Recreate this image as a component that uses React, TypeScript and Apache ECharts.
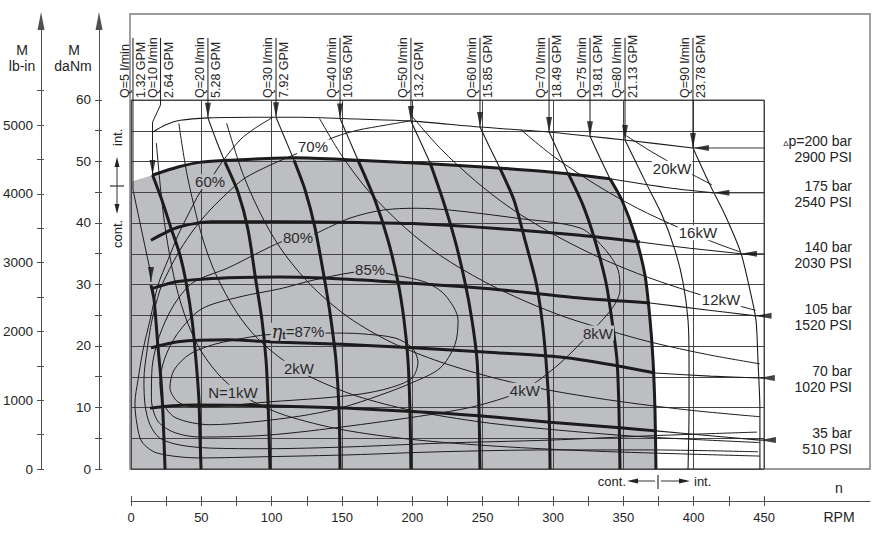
import React, { useEffect, useRef } from "react";
import * as echarts from "echarts";

type Pt = [number, number];

// ---------- axis ticks and labels ----------
const rpmTicks = [0, 25, 50, 75, 100, 125, 150, 175, 200, 225, 250, 275, 300, 325, 350, 375, 400, 425, 450];
const rpmLabels = [0, 50, 100, 150, 200, 250, 300, 350, 400, 450];
const daNmTicks = [0, 5, 10, 15, 20, 25, 30, 35, 40, 45, 50, 55, 60];
const daNmLabels = [0, 10, 20, 30, 40, 50, 60];
const lbinTicks = [0, 500, 1000, 1500, 2000, 2500, 3000, 3500, 4000, 4500, 5000, 5500];
const lbinLabels = [0, 1000, 2000, 3000, 4000, 5000];

// ---------- pressure curves  [RPM, daNm] ----------
const p200: Pt[] = [[15.6, 54.8], [24, 55.9], [35, 56.7], [55, 57.1], [92, 57.2], [120, 57.2], [161, 56.9], [198, 56.6], [248, 55.6], [297, 54.8], [326, 54.1], [351, 53.5], [399.5, 52.2]];
const p175Thick: Pt[] = [[15.6, 47.8], [33.4, 49.1], [49.8, 49.9], [69, 50.2], [116.6, 50.6], [161.4, 50.2], [198.3, 49.8], [250.2, 49.1], [297.9, 48.3], [340.5, 47.2]];
const p175Thin: Pt[] = [[340.5, 47.2], [383.2, 45.7], [414, 44.9]];
const p140Thick: Pt[] = [[14.2, 37.2], [33.4, 39.3], [56.9, 40.2], [105.9, 40.2], [161.4, 40.1], [200.5, 39.9], [260, 39.1], [319.2, 38.0], [361.8, 36.9]];
const p140Thin: Pt[] = [[361.8, 36.9], [397.4, 35.9], [433.6, 35.0]];
const p105Thick: Pt[] = [[14.2, 29.3], [33.4, 30.5], [69, 31.1], [105.9, 31.2], [150, 30.9], [200.5, 30.2], [260, 29.2], [319.2, 27.8], [369, 27.0]];
const p105Thin: Pt[] = [[369, 27.0], [408, 25.9], [444, 24.9]];
const p70Thick: Pt[] = [[14.2, 19.7], [33.4, 20.7], [69, 21.0], [105.9, 20.6], [150, 20.3], [200.5, 19.7], [260, 18.9], [305, 18.2], [342.6, 16.9], [372.5, 15.6]];
const p70Thin: Pt[] = [[372.5, 15.6], [411.6, 15.1], [446.3, 14.8]];
const p35Thick: Pt[] = [[13.5, 9.9], [30, 10.3], [45.5, 10.4], [92.4, 10.3], [152.1, 9.9], [219.7, 9.1], [260, 8.4], [297.9, 7.6], [347.6, 6.7], [373.2, 6.2]];
const p35Thin: Pt[] = [[373.2, 6.2], [411.6, 5.4], [447.1, 4.7]];

const pressureBar = ["200", "175", "140", "105", "70", "35"];
const pressurePsi = ["2900", "2540", "2030", "1520", "1020", "510"];
const pressureArrowTips: Pt[] = [[399.5, 52.2], [414, 44.9], [433.6, 35.0], [444, 24.9], [446.3, 14.8], [447.1, 4.7]];

// ---------- flow curves  [RPM, daNm] ----------
const qFlows = [5, 10, 20, 30, 40, 50, 60, 70, 75, 80, 90];
const qGpm = ["1.32", "2.64", "5.28", "7.92", "10.56", "13.2", "15.85", "18.49", "19.81", "21.13", "23.78"];
const qLeaderRpm = [1.4, 21.0, 54.7, 103.1, 148.6, 199, 248.1, 297.2, 326.3, 351.2, 399.5];
const qTips: Pt[] = [[14.2, 30.4], [15.3, 47.8], [54.7, 57.1], [103.1, 57.2], [148.6, 57.0], [199, 56.6], [248.1, 55.6], [297.2, 54.8], [326.3, 54.1], [351.2, 53.5], [399.5, 52.2]];
const q5Bend: Pt[] = [[1.4, 45.4], [13.5, 32.4]];
const q10Bend: Pt[] = [[21.0, 59.2], [15.3, 56.4]];

const q5Thick: Pt[] = [[14.2, 29.9], [16.4, 27.5], [19.2, 19.8], [21.3, 14.5], [22.7, 9.1], [24.2, 0]];
const q10Thick: Pt[] = [[15.3, 47.8], [22, 43.7], [28.4, 39.2], [34.8, 34.8], [39.1, 30.4], [43.4, 24.2], [46.2, 17.7], [48.3, 11.2], [49.1, 4.7], [49.8, 0]];
const q20Thin: Pt[] = [[54.7, 57.1], [60.5, 53.5], [66.8, 49.9]];
const q20Thick: Pt[] = [[66.8, 49.9], [76.1, 45], [83.2, 38.9], [88.9, 30.4], [93.1, 24.2], [96, 17.7], [97.4, 11.2], [98.8, 0]];
const q30Thin: Pt[] = [[103.1, 57.2], [109.5, 53.7], [115.9, 50.2]];
const q30Thick: Pt[] = [[115.9, 50.2], [123.7, 45.4], [130.8, 39.2], [137.9, 30.4], [142.2, 24.2], [145.7, 17.7], [147.9, 9.6], [148.6, 0]];
const q40Thin: Pt[] = [[148.6, 57.0], [155, 53.6], [161.4, 50.2]];
const q40Thick: Pt[] = [[161.4, 50.2], [173.5, 43.7], [182.7, 37.2], [189.8, 30.4], [194.1, 24.2], [196.9, 17.7], [198.3, 9.6], [199, 0]];
const q50Thin: Pt[] = [[199, 56.6], [205.8, 53.2], [212.6, 49.8]];
const q50Thick: Pt[] = [[212.6, 49.8], [221.8, 43.7], [230.3, 37.2], [237.4, 30.4], [242.4, 24.2], [246, 17.7], [247.4, 9.6], [248.1, 0]];
const q60Thin: Pt[] = [[248.1, 55.6], [255.2, 52.2], [262.3, 48.9]];
const q60Thick: Pt[] = [[262.3, 48.9], [272.3, 43.7], [280.1, 37.2], [287.9, 30.4], [292.2, 24.2], [295, 17.7], [297.2, 9.6], [297.9, 0]];
const q70Thin: Pt[] = [[297.2, 54.8], [304, 51.4], [310.7, 48.1]];
const q70Thick: Pt[] = [[310.7, 48.1], [321.3, 42.9], [329.8, 37.2], [337.6, 30.4], [341.9, 24.2], [345.5, 17.7], [346.9, 9.6], [347.6, 0]];
const q75Thin: Pt[] = [[326.3, 54.1], [333.4, 50.6], [340.5, 47.2]];
const q75Thick: Pt[] = [[340.5, 47.2], [349, 43.7], [358.3, 38], [365.4, 31.5], [369, 24.2], [371.1, 17.7], [372.5, 9.6], [373.2, 0]];
const q80Thin: Pt[] = [[351.2, 53.5], [366.8, 46.2], [377.5, 41.3], [386.7, 35.6], [392.4, 30.4], [396, 24.2], [396.7, 17.7], [396.7, 9.6], [396, 0]];
const q90Thin: Pt[] = [[399.5, 52.2], [411.6, 46.2], [422.3, 41.3], [433.6, 35.1], [440, 29.1], [444.3, 24.2], [445.7, 17.7], [447.1, 9.6], [447.1, 0]];

// continuous-duty region corner
const contCorner: Pt[] = [[0, 46.7]];

// ---------- efficiency contours ----------
const eta60: Pt[] = [[100.9, 57.2], [88.1, 55.4], [77.5, 53.5], [64.7, 49.9], [56.2, 47.0], [49.1, 45.0], [40.5, 41.3], [33.4, 38.0], [26.3, 34.0], [19.2, 29.9], [13.5, 24.2], [8.5, 19.3], [5.0, 14.5], [2.8, 10.7], [4.3, 7.2], [7.8, 4.4], [18.5, 2.6], [49.1, 1.8], [96.7, 2.0], [155.7, 2.3], [219.7, 2.8], [297.9, 3.1], [369, 3.1], [445.7, 2.8]];
const eta70: Pt[] = [[198.3, 56.6], [180.6, 55.9], [161.4, 55.1], [145, 54.0], [120.1, 51.5], [98.8, 49.4], [81, 47.3], [69, 45.0], [56.2, 42.1], [45.5, 39.2], [34.8, 35.6], [26.3, 32.0], [20.6, 29.1], [14.9, 24.2], [11.4, 19.3], [9.2, 14.5], [10, 10.4], [13.5, 7.2], [20.6, 5.0], [34.8, 3.9], [56.2, 3.4], [96.7, 3.3], [155.7, 3.6], [219.7, 4.2], [297.9, 4.7], [369, 5.4], [445, 6.0]];
const eta80: Pt[] = [[130.8, 38.2], [155.7, 40.8], [179.1, 42.1], [202.6, 42.4], [226.8, 42.1], [273.7, 40.8], [319.2, 39.2], [335.5, 36.1], [346.2, 32.4], [347.6, 29.1], [342.6, 26.3], [328.4, 22.6], [305, 17.2], [278.7, 12.8], [248.1, 10.4], [219.7, 9.1], [155.7, 7.0], [96.7, 5.5], [49.1, 5.2], [31.3, 5.9], [19, 7.8], [14.5, 11.5], [15, 16.5], [20, 21.5], [30, 26.5], [44, 30.3], [69, 32.7], [91.7, 35.3], [106.6, 36.9], [118.7, 37.6], [130.8, 38.2]];
const eta85: Pt[] = [[187.7, 31.5], [209, 30.4], [223.2, 28.3], [232.5, 24.2], [230.3, 20.2], [219.7, 16.4], [200.5, 14.1], [177, 12.0], [148.6, 9.9], [120.1, 8.6], [84.6, 7.6], [56.2, 7.2], [32, 8.3], [23, 10.6], [20.6, 14], [24, 18], [33, 22], [50, 26], [77.5, 28.0], [105.9, 29.3], [129.4, 30.7], [155.7, 31.9], [170, 32.2], [187.7, 31.5]];
const eta87: Pt[] = [[145, 22.1], [162.8, 22.0], [187.7, 21.3], [199.8, 19.7], [204, 17.4], [199.8, 14.8], [184.1, 13.2], [163.5, 12.2], [134.4, 11.5], [97.4, 10.9], [63.3, 10.2], [45.5, 10.1], [33.4, 10.9], [27.7, 13.2], [30.6, 16.1], [41.9, 18.7], [59.7, 20.3], [81, 21.3], [95.3, 21.8], [120.1, 22.1], [145, 22.1]];

// ---------- power lines ----------
const kw1: Pt[] = [[18, 53.0], [22, 43.4], [26, 36.7], [32, 29.8], [40, 23.9], [50, 19.1], [65, 14.7], [85, 11.2], [110, 8.7], [150, 6.4], [200, 4.8], [260, 3.7], [330, 2.9], [400, 2.4], [447, 2.1]];
const kw2: Pt[] = [[34, 56.2], [40, 47.7], [50, 38.2], [60, 31.8], [75, 25.5], [90, 21.2], [110, 17.4], [130, 14.7], [160, 11.9], [200, 9.5], [250, 7.6], [300, 6.4], [360, 5.3], [447, 4.3]];
const kw4: Pt[] = [[68, 56.2], [80, 47.7], [95, 40.2], [110, 34.7], [130, 29.4], [155, 24.6], [185, 20.6], [220, 17.4], [260, 14.7], [300, 12.7], [350, 10.9], [400, 9.5], [447, 8.5]];
const kw8: Pt[] = [[134, 57.0], [150, 50.9], [170, 44.9], [195, 39.2], [220, 34.7], [250, 30.6], [280, 27.3], [310, 24.6], [340, 22.5], [370, 20.6], [410, 18.6], [447, 17.1]];
const kw12: Pt[] = [[200, 57.3], [220, 52.1], [245, 46.8], [270, 42.4], [300, 38.2], [330, 34.7], [360, 31.8], [390, 29.4], [420, 27.3], [444, 25.8]];
const kw16: Pt[] = [[277, 55.2], [300, 50.9], [330, 46.3], [360, 42.4], [390, 39.2], [415, 36.8], [433, 35.3]];
const kw20: Pt[] = [[352, 54.2], [370, 51.6], [390, 49.0], [413, 46.2]];

// ---------- curve labels ----------
const curveLabelText = ["60%", "70%", "80%", "85%", "87%", "N=1kW", "2kW", "4kW", "8kW", "12kW", "16kW", "20kW"];
const curveLabelAt: Pt[] = [[56.2, 46.7], [129.4, 52.4], [118.7, 37.6], [170, 32.4], [118.7, 22.3], [72.5, 12.5], [119.4, 16.4], [280, 12.8], [332, 22.1], [419.4, 27.5], [403, 38.4], [384.6, 48.9]];
const curveLabelOnGray = [true, false, true, true, true, true, true, true, true, false, false, false];

// ---------- styling / layout constants ----------
const FONT = '"Liberation Sans", Arial, Helvetica, sans-serif';
const INK = "#1c1c1c";
const TEXT = "#242424";
const GRAY = "#bdbec2";
const LEADER_TOP = 70.1;
const ARROW_END = 512.6;

function curve(data: Pt[], width: number, z = 3, smooth: number | boolean = 0.25) {
  return {
    type: "line", xAxisIndex: 0, yAxisIndex: 0, data, symbol: "none", showSymbol: false,
    smooth, clip: false, silent: true, z, lineStyle: { color: INK, width }, emphasis: { disabled: true },
  };
}

function buildOption() {
  const contRegion: Pt[] = [...contCorner, ...p175Thick, ...q75Thick.slice(1)];
  const series: any[] = [];
  series.push({
    type: "line", xAxisIndex: 0, yAxisIndex: 0, data: contRegion, symbol: "none", smooth: 0.25,
    lineStyle: { width: 0 }, areaStyle: { color: GRAY, opacity: 1 }, z: -1, silent: true,
  });
  [eta60, eta70, eta80, eta85, eta87].forEach((d) => series.push(curve(d, 1, 3, 0.3)));
  [kw1, kw2, kw4, kw8, kw12, kw16, kw20].forEach((d) => series.push(curve(d, 1, 3, 0.3)));
  [p200, p175Thin, p140Thin, p105Thin, p70Thin, p35Thin].forEach((d) => series.push(curve(d, 1.1, 3)));
  [p175Thick, p140Thick, p105Thick, p70Thick, p35Thick].forEach((d) => series.push(curve(d, 3, 4)));
  [q20Thin, q30Thin, q40Thin, q50Thin, q60Thin, q70Thin, q75Thin, q80Thin, q90Thin].forEach((d) => series.push(curve(d, 1.1, 3)));
  [q5Thick, q10Thick, q20Thick, q30Thick, q40Thick, q50Thick, q60Thick, q70Thick, q75Thick].forEach((d) => series.push(curve(d, 3, 4)));
  // flow label leaders
  qLeaderRpm.forEach((r, i) => {
    let pts: Pt[] = [[r, LEADER_TOP]];
    if (i === 0) pts = pts.concat(q5Bend);
    if (i === 1) pts = pts.concat(q10Bend);
    pts.push(qTips[i]);
    series.push(curve(pts, 1, 3, false));
  });
  // pressure leaders
  pressureArrowTips.forEach((t) => {
    series.push({ ...curve([t, [ARROW_END, t[1]]], 1, 3, false), lineStyle: { color: "#3a3a3a", width: 1 } });
  });
  series.push({
    type: "scatter", xAxisIndex: 0, yAxisIndex: 0, data: qTips, symbol: "triangle", symbolSize: [6, 15],
    symbolRotate: 180, symbolOffset: [0, -7.5], itemStyle: { color: "#111" }, clip: false, silent: true, z: 6,
  });
  series.push({
    type: "scatter", xAxisIndex: 0, yAxisIndex: 0, data: pressureArrowTips, symbol: "triangle", symbolSize: [6, 16],
    symbolRotate: 90, symbolOffset: [8, 0], itemStyle: { color: "#111" }, clip: false, silent: true, z: 6,
  });

  const hidden = { axisLine: { show: false }, axisTick: { show: false }, axisLabel: { show: false }, splitLine: { show: false } };
  const axisColor = "#505050";
  const plain = (v: number) => String(v);

  return {
    animation: false,
    backgroundColor: "#ffffff",
    textStyle: { fontFamily: FONT },
    grid: [
      { left: 131, top: 100, width: 633, height: 369, show: true, borderColor: "#4a4a4a", borderWidth: 1, backgroundColor: "transparent" },
      { left: 131, top: 30, width: 739, height: 439, show: false },
      { left: 130, top: 14, width: 740, height: 455, show: true, borderColor: "#7a7a7a", borderWidth: 1.4, backgroundColor: "transparent" },
    ],
    xAxis: [
      { gridIndex: 0, type: "value", min: 0, max: 450, interval: 50, ...hidden, splitLine: { show: true, lineStyle: { color: "#454545", width: 1 } } },
      {
        gridIndex: 1, type: "value", min: 0, max: 525.35, position: "bottom", offset: 32,
        axisLine: { show: true, onZero: false, lineStyle: { color: axisColor, width: 1 } },
        axisTick: { show: true, customValues: rpmTicks, length: 5, inside: false, lineStyle: { color: axisColor } },
        axisLabel: { show: true, customValues: rpmLabels, margin: 10, fontSize: 13, color: TEXT, fontFamily: FONT, formatter: plain },
        splitLine: { show: false },
      },
      {
        gridIndex: 1, type: "value", min: 0, max: 525.35, position: "bottom", offset: 32,
        axisLine: { show: false, onZero: false },
        axisTick: { show: true, customValues: rpmTicks, length: 5, inside: true, lineStyle: { color: axisColor } },
        axisLabel: { show: false }, splitLine: { show: false },
      },
      { gridIndex: 2, type: "value", min: 0, max: 1, show: false },
    ],
    yAxis: [
      { gridIndex: 0, type: "value", min: 0, max: 60, interval: 5, ...hidden, splitLine: { show: true, lineStyle: { color: "#454545", width: 1 } } },
      {
        gridIndex: 1, type: "value", min: 0, max: 71.38, position: "left", offset: 32,
        axisLine: { show: true, onZero: false, lineStyle: { color: axisColor, width: 1 }, symbol: ["none", "triangle"], symbolSize: [7, 18], symbolOffset: [0, 9] },
        axisTick: { show: true, customValues: daNmTicks, length: 4, inside: false, lineStyle: { color: axisColor } },
        axisLabel: { show: true, customValues: daNmLabels, margin: 8, fontSize: 13.5, color: TEXT, fontFamily: FONT, formatter: plain },
        splitLine: { show: false },
      },
      {
        gridIndex: 1, type: "value", min: 0, max: 71.38, position: "left", offset: 32,
        axisLine: { show: false, onZero: false },
        axisTick: { show: true, customValues: daNmTicks, length: 3, inside: true, lineStyle: { color: axisColor } },
        axisLabel: { show: false }, splitLine: { show: false },
      },
      {
        gridIndex: 1, type: "value", min: 0, max: 6381, position: "left", offset: 90,
        axisLine: { show: true, onZero: false, lineStyle: { color: axisColor, width: 1 }, symbol: ["none", "triangle"], symbolSize: [7, 18], symbolOffset: [0, 9] },
        axisTick: { show: true, customValues: lbinTicks, length: 4, inside: false, lineStyle: { color: axisColor } },
        axisLabel: { show: true, customValues: lbinLabels, margin: 8, fontSize: 13.5, color: TEXT, fontFamily: FONT, formatter: plain },
        splitLine: { show: false },
      },
      {
        gridIndex: 1, type: "value", min: 0, max: 6381, position: "left", offset: 90,
        axisLine: { show: false, onZero: false },
        axisTick: { show: true, customValues: lbinTicks, length: 3, inside: true, lineStyle: { color: axisColor } },
        axisLabel: { show: false }, splitLine: { show: false },
      },
      { gridIndex: 2, type: "value", min: 0, max: 1, show: false },
    ],
    series,
  };
}

function text(x: number, y: number, t: string, o: any = {}) {
  return {
    type: "text", x, y, z: 100, rotation: o.rotation || 0, silent: true,
    style: {
      text: t, fill: o.fill || TEXT, fontSize: o.size || 13, fontFamily: o.family || FONT,
      align: o.align || "center", verticalAlign: o.va || "middle",
      textAlign: o.align || "center", textVerticalAlign: o.va || "middle",
      backgroundColor: o.bg, padding: o.bg ? [0, 1, 0, 1] : 0, rich: o.rich,
    },
  };
}
function seg(x1: number, y1: number, x2: number, y2: number, w = 1, c = "#3a3a3a") {
  return { type: "line", z: 100, silent: true, shape: { x1, y1, x2, y2 }, style: { stroke: c, lineWidth: w } };
}
function tri(points: number[][]) {
  return { type: "polygon", z: 100, silent: true, shape: { points }, style: { fill: "#222" } };
}

function buildGraphic(px: (p: Pt) => number[]) {
  const els: any[] = [];
  // axis titles
  els.push(text(22, 50, "M", { size: 14 }));
  els.push(text(22, 66, "lb-in", { size: 14 }));
  els.push(text(74, 50, "M", { size: 14 }));
  els.push(text(73, 66, "daNm", { size: 14 }));
  els.push(text(839, 488, "n", { size: 14 }));
  els.push(text(839, 517, "RPM", { size: 14 }));

  // left cont./int. marker
  els.push(text(117, 146, "int.", { size: 13, rotation: Math.PI / 2, align: "left" }));
  els.push(text(117, 248, "cont.", { size: 13, rotation: Math.PI / 2, align: "left" }));
  els.push(seg(117, 164, 117, 207, 1, "#333"));
  els.push(seg(110, 186, 124, 186, 1.2, "#333"));
  els.push(tri([[117, 157], [114.5, 167], [119.5, 167]]));
  els.push(tri([[117, 214], [114.5, 204], [119.5, 204]]));

  // bottom cont./int. marker
  els.push(text(626, 481, "cont.", { size: 13, align: "right" }));
  els.push(text(694, 481, "int.", { size: 13, align: "left" }));
  els.push(seg(634, 481, 655, 481, 1, "#333"));
  els.push(seg(661, 481, 682, 481, 1, "#333"));
  els.push(seg(658, 475, 658, 489, 1.2, "#333"));
  els.push(tri([[627, 481], [638, 478.5], [638, 483.5]]));
  els.push(tri([[690, 481], [679, 478.5], [679, 483.5]]));

  // flow labels
  qLeaderRpm.forEach((r, i) => {
    const x = px([r, 0])[0];
    els.push(text(x - 1.5, 98, `Q=${qFlows[i]} l/min`, { size: 12.5, rotation: Math.PI / 2, align: "left", va: "bottom" }));
    els.push(text(x + 1.5, 98, `${qGpm[i]} GPM`, { size: 12.5, rotation: Math.PI / 2, align: "left", va: "top" }));
  });

  // pressure labels
  pressureArrowTips.forEach((t, i) => {
    const y = px(t)[1];
    if (i === 0) {
      els.push(text(852, y - 7, `{d|Δ}{n|p=${pressureBar[i]} bar}`, {
        align: "right",
        rich: { d: { fontSize: 8, fill: TEXT, fontFamily: FONT, verticalAlign: "bottom" }, n: { fontSize: 14, fill: TEXT, fontFamily: FONT } },
      }));
    } else {
      els.push(text(852, y - 7, `${pressureBar[i]} bar`, { size: 14, align: "right" }));
    }
    els.push(text(852, y + 9, `${pressurePsi[i]} PSI`, { size: 14, align: "right" }));
  });

  // curve labels
  curveLabelText.forEach((t, i) => {
    const [x, y] = px(curveLabelAt[i]);
    const bg = curveLabelOnGray[i] ? GRAY : "#ffffff";
    if (t === "87%") {
      els.push(text(x, y, "{e|η}{t|t}{n|=87%}", {
        bg, fill: "#2a2a2a",
        rich: {
          e: { fontFamily: '"DejaVu Serif", serif', fontStyle: "italic", fontSize: 18, fill: "#2a2a2a" },
          t: { fontSize: 10, fontWeight: "bold", fill: "#2a2a2a", fontFamily: FONT, verticalAlign: "bottom" },
          n: { fontSize: 15, fill: "#2a2a2a", fontFamily: FONT },
        },
      }));
    } else {
      els.push(text(x, y, t, { size: 15, bg, fill: "#2a2a2a" }));
    }
  });
  return els;
}

export default function App() {
  const ref = useRef<HTMLDivElement>(null);
  useEffect(() => {
    const el = ref.current;
    if (!el) return;
    const chart = echarts.init(el, null, { renderer: "svg" });
    chart.setOption(buildOption() as any);
    const px = (p: Pt) => chart.convertToPixel({ gridIndex: 0 } as any, p) as unknown as number[];
    chart.setOption({ graphic: buildGraphic(px) } as any);
    return () => chart.dispose();
  }, []);
  return (
    <div
      ref={ref}
      style={{ position: "fixed", left: 0, top: 0, width: 878, height: 534, background: "#fff" }}
    />
  );
}
